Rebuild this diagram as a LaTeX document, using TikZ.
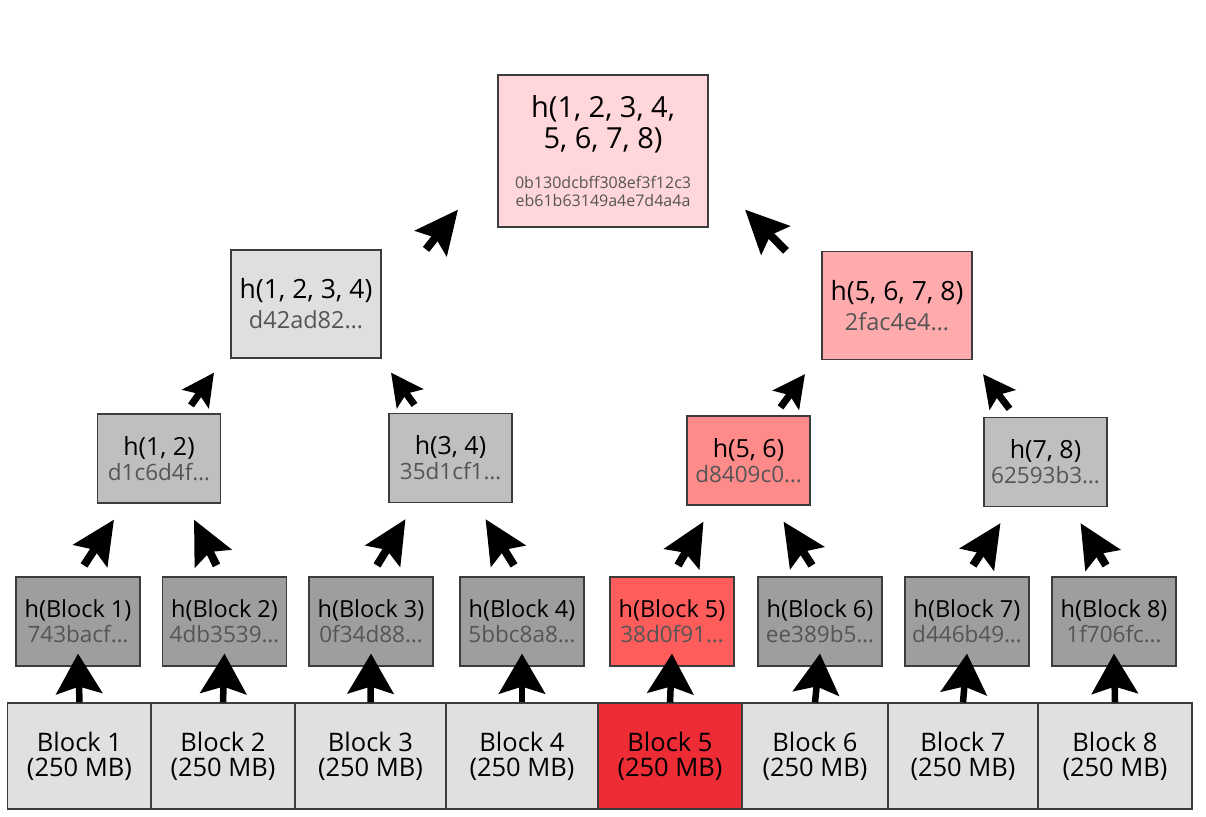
\documentclass[tikz,border=0pt]{standalone}
\usepackage{fontspec}
\setmainfont{Open Sans}
\usetikzlibrary{calc,arrows.meta}

\definecolor{blockgray}{HTML}{E0E0E0}
\definecolor{blockred}{HTML}{EE2C35}
\definecolor{leafgray}{HTML}{9E9E9E}
\definecolor{leafred}{HTML}{FF5C5C}
\definecolor{pairgray}{HTML}{BFBFBF}
\definecolor{pairred}{HTML}{FF8A8A}
\definecolor{quadgray}{HTML}{DFDFDF}
\definecolor{quadred}{HTML}{FFAAAC}
\definecolor{rootpink}{HTML}{FFD6D9}
\definecolor{boxline}{HTML}{3C3C3C}
\definecolor{hashtext}{HTML}{555555}

\newcommand{\hashtxt}[2][22.5]{{\fontsize{#1}{25}\selectfont\color{hashtext}#2}}

\tikzset{
  hbox/.style={draw=boxline, line width=1.2pt, inner sep=0pt, align=center},
  blockbox/.style={hbox, minimum height=106pt, font=\fontsize{25.5}{25}\selectfont},
  leafbox/.style={hbox, minimum width=124pt, minimum height=89pt, font=\fontsize{23.5}{25}\selectfont},
  pairbox/.style={hbox, minimum width=123pt, minimum height=89pt, fill=pairgray, font=\fontsize{25}{25}\selectfont},
  quadbox/.style={hbox, minimum width=150pt, minimum height=108pt, fill=quadgray, font=\fontsize{26.5}{30}\selectfont},
  rootbox/.style={hbox, minimum width=210pt, minimum height=152pt, fill=rootpink, font=\fontsize{29}{31}\selectfont},
  uparrow/.style={-{Stealth[length=40pt,width=46pt,inset=7pt]}, line width=6.5pt},
  bigdiag/.style={-{Stealth[length=43pt,width=40pt,inset=7pt]}, line width=8pt},
  smalldiag/.style={-{Stealth[length=32pt,width=32pt,inset=6pt]}, line width=7pt},
}

\begin{document}
\begin{tikzpicture}[x=1pt,y=-1pt]
    \useasboundingbox (0,0) rectangle (1206,816);
    %draw data blocks
    \foreach \i/\x/\w/\c in {1/79.5/144/blockgray, 2/223/144/blockgray, 3/370.5/151/blockgray, 4/522/152/blockgray,
                             5/670/144/blockred, 6/815/146/blockgray, 7/963/150/blockgray, 8/1115/154/blockgray}{
        \node[blockbox, minimum width=\w pt, fill=\c] (b\i) at (\x,756) {Block \i\\(250 MB)};
    }
    %draw leaf hashes
    \foreach \i/\x/\hv/\c in {1/78/743bacf/leafgray, 2/224.5/4db3539/leafgray, 3/371/0f34d88/leafgray, 4/522/5bbc8a8/leafgray,
                              5/672/38d0f91/leafred, 6/820/ee389b5/leafgray, 7/967/d446b49/leafgray, 8/1114/1f706fc/leafgray}{
        \node[leafbox, fill=\c] (l\i) at (\x,621.5) {h(Block \i)\\\hashtxt{\hv…}};
    }
    %draw pair hashes
    \node[pairbox] (p12) at (159,458.5) {h(1, 2)\\\hashtxt{d1c6d4f…}};
    \node[pairbox] (p34) at (450.5,458) {h(3, 4)\\\hashtxt{35d1cf1…}};
    \node[pairbox, fill=pairred] (p56) at (748.5,460.5) {h(5, 6)\\\hashtxt{d8409c0…}};
    \node[pairbox] (p78) at (1045.5,462) {h(7, 8)\\\hashtxt{62593b3…}};
    %draw upper hashes
    \node[quadbox] (q1234) at (306,304) {h(1, 2, 3, 4)\\\hashtxt[23.5]{d42ad82…}};
    \node[quadbox, fill=quadred] (q5678) at (897,305.5) {h(5, 6, 7, 8)\\\hashtxt[23.5]{2fac4e4…}};
    %draw root
    \node[rootbox] (root) at (603,151) {h(1, 2, 3, 4,\\5, 6, 7, 8)\\[9pt]\hashtxt[16]{0b130dcbff308ef3f12c3}\\[-13pt]\hashtxt[16]{eb61b63149a4e7d4a4a}};

    %draw arrows
    \foreach \i in {1,...,8}{
        \draw[uparrow] (b\i.north) -- ($(l\i.south)+(0,-13)$);
    }
    \foreach \l/\r/\p in {1/2/12, 3/4/34, 5/6/56, 7/8/78}{
        \draw[bigdiag] ($(l\l.north)+(6,-11)$) -- ($(p\p.south)+(-45,16)$);
        \draw[bigdiag] ($(l\r.north)+(-8,-11)$) -- ($(p\p.south)+(35,16)$);
    }
    \draw[smalldiag] ($(p12.north)+(32,-8)$) -- ($(q1234.south)+(-92,14)$);
    \draw[smalldiag] ($(p34.north)+(-36,-8)$) -- ($(q1234.south)+(85,14)$);
    \draw[smalldiag] ($(p56.north)+(32,-8)$) -- ($(q5678.south)+(-92,14)$);
    \draw[smalldiag] ($(p78.north)+(-36,-8)$) -- ($(q5678.south)+(86,14)$);
    \draw[bigdiag] ($(q1234.north)+(120,0)$) -- ($(root.south)+(-145,-18)$);
    \draw[bigdiag] ($(q5678.north)+(-111,0)$) -- ($(root.south)+(142,-18)$);
\end{tikzpicture}
\end{document}
